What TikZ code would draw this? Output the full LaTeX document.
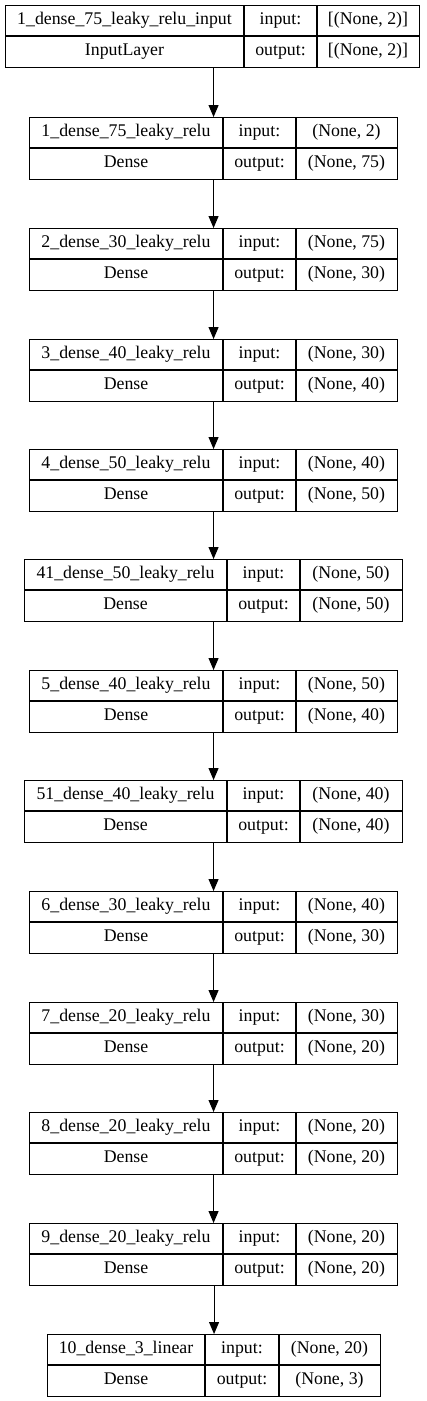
\documentclass[tikz,border=0pt]{standalone}
\usepackage{fontspec}
\setmainfont{Liberation Serif}
\usetikzlibrary{arrows.meta}

\tikzset{
  cell/.style={inner sep=0pt, text height=12pt, text depth=4pt, font=\fontsize{17.8}{20}\selectfont},
  layerbox/.style={draw, line width=1.1pt, inner sep=0pt, anchor=north west},
  grid line/.style={line width=1.1pt},
  flow/.style={line width=1.1pt, -{Triangle[length=12pt,width=10pt]}}
}

\begin{document}
\begin{tikzpicture}[x=1pt,y=-1pt]
  \useasboundingbox (0,0) rectangle (427,1401);
  % one box per layer: name / top / x-splits / texts
  \foreach \nm/\ty/\xa/\xb/\xc/\xd/\lab/\kind/\inp/\outp in {
    in/5/5/244/317/419/1\_dense\_75\_leaky\_relu\_input/InputLayer/{[(None, 2)]}/{[(None, 2)]},
    l1/117/29/223/296/397/1\_dense\_75\_leaky\_relu/Dense/{(None, 2)}/{(None, 75)},
    l2/228/29/223/296/397/2\_dense\_30\_leaky\_relu/Dense/{(None, 75)}/{(None, 30)},
    l3/339/29/223/296/397/3\_dense\_40\_leaky\_relu/Dense/{(None, 30)}/{(None, 40)},
    l4/449/29/223/296/397/4\_dense\_50\_leaky\_relu/Dense/{(None, 40)}/{(None, 50)},
    l41/559/24/227/300/402/41\_dense\_50\_leaky\_relu/Dense/{(None, 50)}/{(None, 50)},
    l5/670/29/223/296/397/5\_dense\_40\_leaky\_relu/Dense/{(None, 50)}/{(None, 40)},
    l51/780/24/227/300/402/51\_dense\_40\_leaky\_relu/Dense/{(None, 40)}/{(None, 40)},
    l6/891/29/223/296/397/6\_dense\_30\_leaky\_relu/Dense/{(None, 40)}/{(None, 30)},
    l7/1002/29/223/296/397/7\_dense\_20\_leaky\_relu/Dense/{(None, 30)}/{(None, 20)},
    l8/1112/29/223/296/397/8\_dense\_20\_leaky\_relu/Dense/{(None, 20)}/{(None, 20)},
    l9/1223/29/223/296/397/9\_dense\_20\_leaky\_relu/Dense/{(None, 20)}/{(None, 20)},
    l10/1334/47/205/279/380/10\_dense\_3\_linear/Dense/{(None, 20)}/{(None, 3)}} {
    \node[layerbox, minimum width={(\xd-\xa)*1pt}, minimum height=62pt] (\nm) at (\xa,\ty) {};
    \draw[grid line] (\xa,\ty+31) -- (\xd,\ty+31);
    \draw[grid line] (\xb,\ty) -- (\xb,\ty+62);
    \draw[grid line] (\xc,\ty) -- (\xc,\ty+62);
    \node[cell] (\nm-name) at ({(\xa+\xb)/2},\ty+15.5) {\lab};
    \node[cell] (\nm-kind) at ({(\xa+\xb)/2},\ty+46.5) {\kind};
    \node[cell] (\nm-inl) at ({(\xb+\xc)/2},\ty+15.5) {input:};
    \node[cell] (\nm-outl) at ({(\xb+\xc)/2},\ty+46.5) {output:};
    \node[cell] (\nm-in) at ({(\xc+\xd)/2},\ty+15.5) {\inp};
    \node[cell] (\nm-out) at ({(\xc+\xd)/2},\ty+46.5) {\outp};
  }
  \foreach \a/\b in {in/l1,l1/l2,l2/l3,l3/l4,l4/l41,l41/l5,l5/l51,l51/l6,l6/l7,l7/l8,l8/l9,l9/l10}
    \draw[flow] (\b.north |- \a.south) -- (\b.north);
\end{tikzpicture}
\end{document}
